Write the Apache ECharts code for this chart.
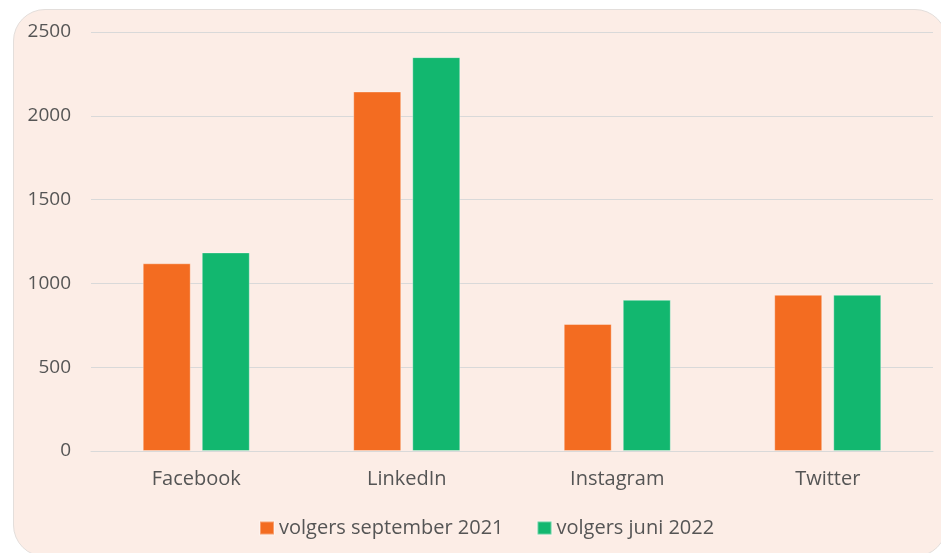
<!DOCTYPE html>
<html>
<head>
<meta charset="utf-8">
<script src="https://cdn.jsdelivr.net/npm/echarts@6/dist/echarts.min.js"></script>
<style>
  html, body { margin: 0; padding: 0; background: #ffffff; }
  #frame {
    position: absolute; left: 13px; top: 9px; width: 934px; height: 548px;
    background: #fcede6; border: 1px solid #e3dedb; border-radius: 32px;
    box-sizing: border-box;
  }
  #chart { position: absolute; left: 0; top: 0; width: 941px; height: 553px; }
</style>
</head>
<body>
<div id="frame"></div>
<div id="chart"></div>
<script>
var categories = ['Facebook', 'LinkedIn', 'Instagram', 'Twitter'];
var sept2021 = [1120, 2145, 758, 932];
var juni2022 = [1185, 2350, 902, 932];

var myChart = echarts.init(document.getElementById('chart'));
var font = '"Open Sans", "Noto Sans", sans-serif';

var option = {
  backgroundColor: 'transparent',
  textStyle: { fontFamily: font },
  grid: { left: 91, right: 8, top: 32, bottom: 102 },
  legend: {
    top: 513,
    left: 254,
    itemWidth: 14,
    itemHeight: 13,
    itemGap: 33,
    icon: 'rect',
    textStyle: { fontSize: 20, color: '#555555', fontFamily: font },
    data: ['volgers september 2021', 'volgers juni 2022']
  },
  xAxis: {
    type: 'category',
    data: categories,
    axisTick: { show: false },
    axisLine: { lineStyle: { color: '#d9d9d9', width: 1 } },
    axisLabel: { fontSize: 20, color: '#555555', margin: 18, fontFamily: font }
  },
  yAxis: {
    type: 'value',
    min: 0,
    max: 2500,
    interval: 500,
    axisLine: { show: false },
    axisTick: { show: false },
    splitLine: { lineStyle: { color: '#d9d9d9', width: 1 } },
    axisLabel: {
      fontSize: 19, color: '#555555', margin: 20, fontFamily: font,
      formatter: function (v) { return String(v); }
    }
  },
  series: [
    {
      name: 'volgers september 2021',
      type: 'bar',
      data: sept2021,
      barWidth: 48,
      barGap: '23%',
      itemStyle: { color: '#f36c21', borderColor: 'rgba(255,255,255,0.35)', borderWidth: 1 }
    },
    {
      name: 'volgers juni 2022',
      type: 'bar',
      data: juni2022,
      barWidth: 48,
      itemStyle: { color: '#12b76f', borderColor: 'rgba(255,255,255,0.35)', borderWidth: 1 }
    }
  ]
};

myChart.setOption(option);
</script>
</body>
</html>
